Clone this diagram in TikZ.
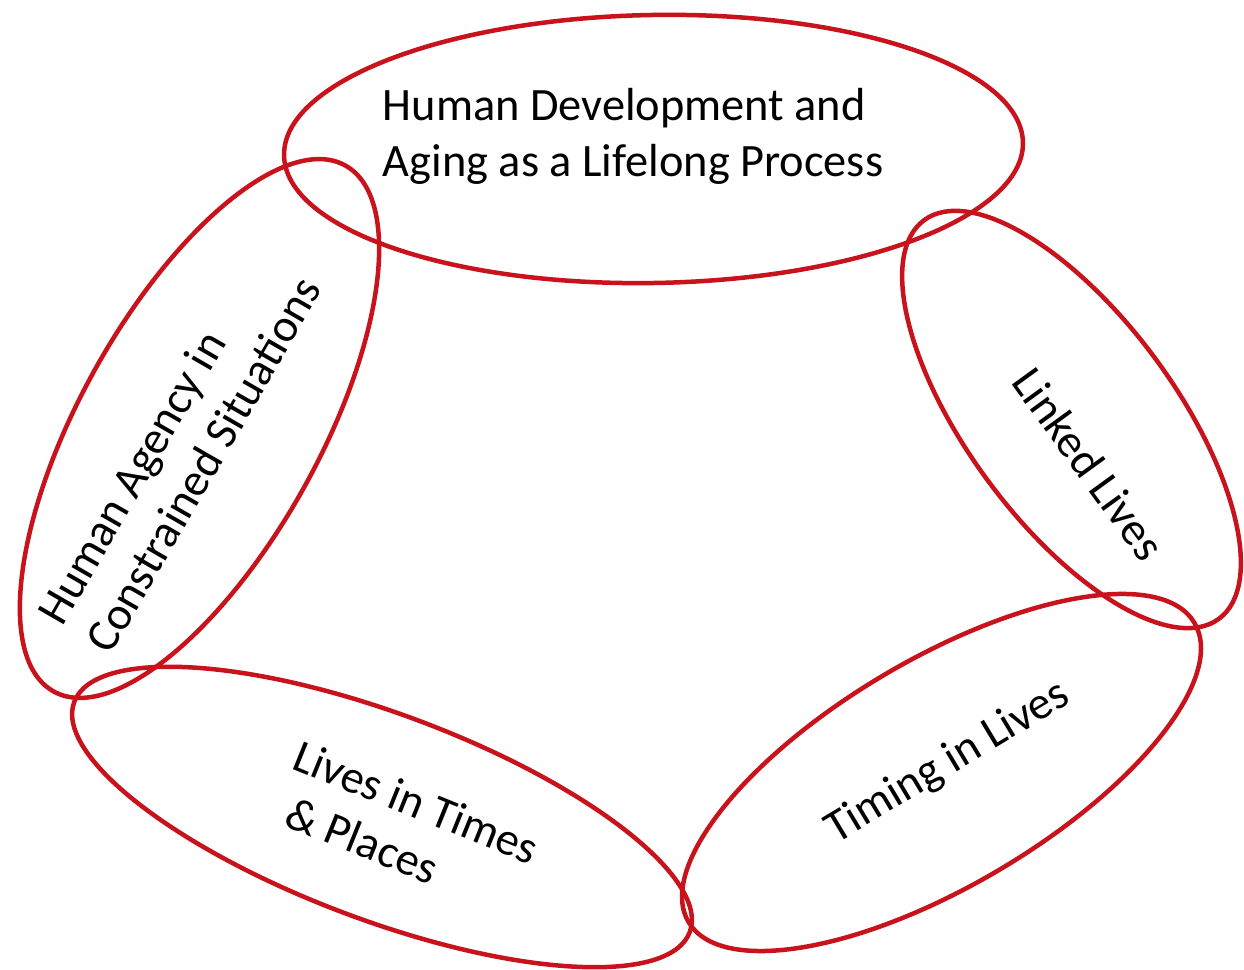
\documentclass[tikz,border=0pt]{standalone}
\usepackage{fontspec}
\setmainfont{Carlito}
\definecolor{ringred}{RGB}{200,18,28}
\tikzset{
  ring/.style={ringred, line width=0.045cm},
  theme/.style={inner sep=0pt, text=black}
}
\begin{document}
\begin{tikzpicture}
            \useasboundingbox (0,0) rectangle (12.440000,9.700000);%
            {\fontsize{13.2}{15.9}\selectfont

            % Drawing ellipse development
            \draw [ring, rotate around={1.0:(6.535000,8.210000)}] (6.535000,8.210000) ellipse (3.695000 and 1.340000);%
            \node [theme, align=left] (development) at (6.330000,8.340000) {Human Development and\\Aging as a Lifelong Process};%

            % Drawing ellipse agency
            \draw [ring, rotate around={61.0:(1.995000,5.415000)}] (1.995000,5.415000) ellipse (3.007000 and 1.200000);%
            \node [theme, align=left, rotate=60] (agency) at (1.790000,5.195000) {Human Agency in\\Constrained Situations};%

            % Drawing ellipse linked
            \draw [ring, rotate around={-53.5:(10.715000,5.505000)}] (10.715000,5.505000) ellipse (2.479000 and 1.036000);%
            \node [theme, rotate=-54] (linked) at (10.890000,5.060000) {Linked Lives};%

            % Drawing ellipse timing
            \draw [ring, rotate around={30.6:(9.415000,1.975000)}] (9.415000,1.975000) ellipse (2.939000 and 1.132000);%
            \node [theme, rotate=31] (timing) at (9.480000,2.070000) {Timing in Lives};%

            % Drawing ellipse places
            \draw [ring, rotate around={-20.5:(3.820000,1.530000)}] (3.820000,1.530000) ellipse (3.286000 and 1.031000);%
            \node [theme, align=left, rotate=-22] (places) at (4.060000,1.420000) {Lives in Times\\\hspace*{0.3em}\& Places};%
            }
        \end{tikzpicture}
\end{document}
